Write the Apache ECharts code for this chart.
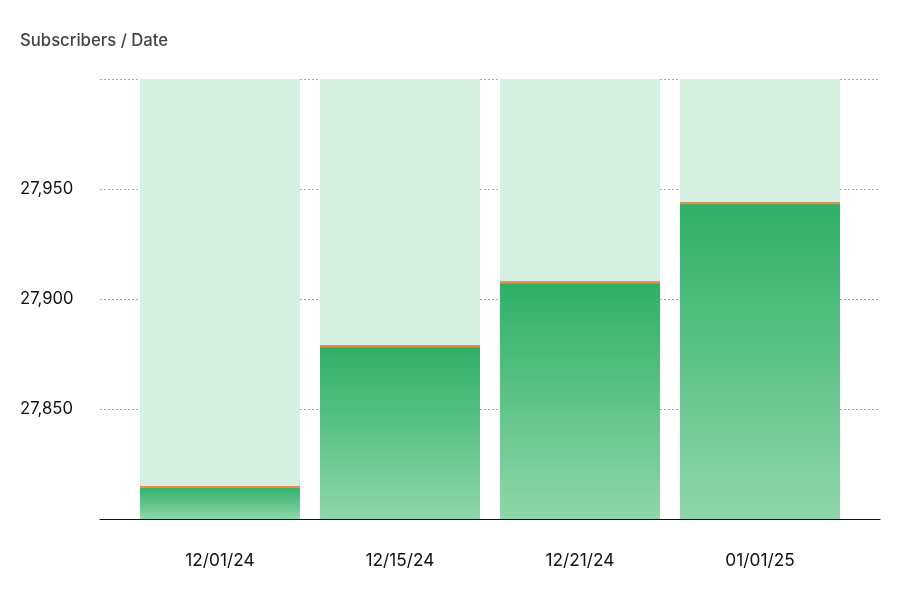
<!DOCTYPE html>
<html><head><meta charset="utf-8">
<script src="https://cdn.jsdelivr.net/npm/echarts@6/dist/echarts.min.js"></script>
<style>html,body{margin:0;padding:0;background:#fff}#c{width:900px;height:600px}</style>
</head><body><div id="c"></div>
<script>
const categories = ['12/01/24', '12/15/24', '12/21/24', '01/01/25'];
const subscribers = [27815, 27879, 27908, 27944];
const yTicks = [27850, 27900, 27950];
const title = 'Subscribers / Date';

const chart = echarts.init(document.getElementById('c'));
const font = 'Inter, "Noto Sans", sans-serif';
const gradient = new echarts.graphic.LinearGradient(0, 0, 0, 1, [
  {offset: 0, color: '#2daf66'},
  {offset: 1, color: '#8fd6ab'}
]);
chart.setOption({
  animation: false,
  title: {text: title, left: 20, top: 32, padding: 0, textStyle: {fontFamily: font, fontSize: 16.7, fontWeight: 500, color: '#444'}},
  grid: [
    {left: 100, right: 20, top: 79, bottom: 81},
    {left: 130, right: 50, top: 79, bottom: 81}
  ],
  xAxis: [
    {gridIndex: 0, type: 'value', min: 0, max: 1, show: true, axisLine: {show: true, lineStyle: {color: '#111', width: 1}}, axisTick: {show: false}, axisLabel: {show: false}, splitLine: {show: false}},
    {gridIndex: 1, type: 'category', data: categories, axisLine: {show: false}, axisTick: {show: false},
     axisLabel: {margin: 33, fontFamily: font, fontSize: 17.3, color: '#111'}}
  ],
  yAxis: [
    {gridIndex: 0, type: 'value', min: 27800, max: 28000, interval: 50,
     axisLine: {show: false}, axisTick: {show: false},
     axisLabel: {margin: 80, align: 'left', fontFamily: font, fontSize: 16.7, color: '#111',
       formatter: v => yTicks.includes(v) ? v.toLocaleString('en-US') : ''},
     splitLine: {show: true, lineStyle: {type: [2, 2], color: '#aaa', width: 1}}},
    {gridIndex: 1, type: 'value', min: 27800, max: 28000, show: false, splitLine: {show: false}}
  ],
  series: [
    {type: 'bar', xAxisIndex: 1, yAxisIndex: 1, data: subscribers, barWidth: 160,
     showBackground: true, backgroundStyle: {color: '#d5efe0'},
     itemStyle: {color: gradient}, z: 2},
    {type: 'pictorialBar', xAxisIndex: 1, yAxisIndex: 1, data: subscribers, symbol: 'rect',
     symbolSize: [160, 2], symbolPosition: 'end', symbolOffset: [0, 0], itemStyle: {color: '#f08a4b'}, z: 3}
  ]
});
</script></body></html>
